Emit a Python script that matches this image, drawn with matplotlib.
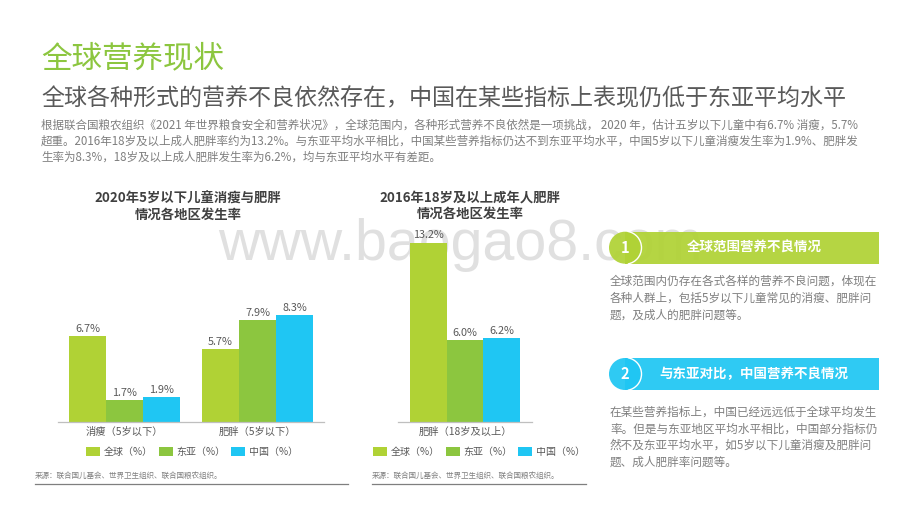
import matplotlib
matplotlib.use("Agg")
import matplotlib.pyplot as plt
from matplotlib.patches import Rectangle, Circle, Arc

plt.rcParams['font.family'] = ['Noto Sans CJK SC', 'DejaVu Sans']

W, H = 920, 518
LIME, GREEN, BLUE = '#B0D235', '#8CC63F', '#1FC6F3'
DARK, MID, GRIDC = '#595959', '#7F7F7F', '#BFBFBF'

series_names = ['全球（%）', '东亚（%）', '中国（%）']
series_colors = [LIME, GREEN, BLUE]

child_categories = ['消瘦（5岁以下）', '肥胖（5岁以下）']
child_global = [6.7, 5.7]
child_east_asia = [1.7, 7.9]
child_china = [1.9, 8.3]

adult_categories = ['肥胖（18岁及以上）']
adult_global = [13.2]
adult_east_asia = [6.0]
adult_china = [6.2]

title = '全球营养现状'
subtitle = '全球各种形式的营养不良依然存在，中国在某些指标上表现仍低于东亚平均水平'
intro_lines = [
    '根据联合国粮农组织《2021 年世界粮食安全和营养状况》，全球范围内，各种形式营养不良依然是一项挑战， 2020 年，估计五岁以下儿童中有6.7% 消瘦，5.7%',
    '超重。2016年18岁及以上成人肥胖率约为13.2%。与东亚平均水平相比，中国某些营养指标仍达不到东亚平均水平，中国5岁以下儿童消瘦发生率为1.9%、肥胖发',
    '生率为8.3%，18岁及以上成人肥胖发生率为6.2%，均与东亚平均水平有差距。',
]
source = '来源：联合国儿基会、世界卫生组织、联合国粮农组织。'
panel1_head = '全球范围营养不良情况'
panel1_lines = ['全球范围内仍存在各式各样的营养不良问题，体现在',
                '各种人群上，包括5岁以下儿童常见的消瘦、肥胖问',
                '题，及成人的肥胖问题等。']
panel2_head = '与东亚对比，中国营养不良情况'
panel2_lines = ['在某些营养指标上，中国已经远远低于全球平均发生',
                '率。但是与东亚地区平均水平相比，中国部分指标仍',
                '然不及东亚平均水平，如5岁以下儿童消瘦及肥胖问',
                '题、成人肥胖率问题等。']

fig = plt.figure(figsize=(W / 100, H / 100), dpi=100, facecolor='white')

# Page layer in pixel coordinates
page = fig.add_axes([0, 0, 1, 1], zorder=0)
page.set_xlim(0, W)
page.set_ylim(H, 0)
page.axis('off')

page.text(218, 260, 'www.baogao8.com', family=['Liberation Sans'], fontsize=41.3,
          color='#E0E0E0', va='baseline', ha='left', zorder=1)

page.text(41, 59, title, fontsize=22, color=GREEN, va='center')
page.text(41, 98.5, subtitle, fontsize=16.6, color=DARK, va='center')
for y, line in zip([124.8, 141, 157.5], intro_lines):
    page.text(41, y, line, fontsize=8.3, color=MID, va='center')

for cx, y0, lines in [(188, 199, ['2020年5岁以下儿童消瘦与肥胖', '情况各地区发生率']),
                      (470, 198, ['2016年18岁及以上成年人肥胖', '情况各地区发生率'])]:
    for i, line in enumerate(lines):
        page.text(cx, y0 + 16 * i, line, fontsize=9.6, weight='bold', color='#404040',
                  va='center', ha='center')

for x0, x1 in [(35, 348), (372, 586)]:
    page.text(x0, 475.5, source, fontsize=5.45, color=MID, va='center')
    page.plot([x0, x1], [483.5, 483.5], color='#7F7F7F', lw=0.9)

for yc, col, num, head, lines, ys, hx in [
    (247.7, LIME, '1', panel1_head, panel1_lines, [281.5, 298.5, 315.5], 754),
    (374, BLUE, '2', panel2_head, panel2_lines, [412, 429, 445.5, 462], 753.5),
]:
    page.add_patch(Rectangle((641, yc - 16), 238, 32, facecolor=col, alpha=0.93, lw=0, zorder=2))
    page.add_patch(Rectangle((625, yc - 16), 16, 32, facecolor=col, alpha=0.93, lw=0, zorder=2))
    page.add_patch(Circle((625, yc), 16, facecolor=col, alpha=0.93, lw=0, zorder=2))
    page.add_patch(Arc((625, yc), 33, 33, theta1=-80, theta2=80, color='white', lw=1, zorder=4))
    page.text(625, yc, num, fontsize=10.5, weight='bold', color='white', va='center',
              ha='center', zorder=5)
    page.text(hx, yc, head, fontsize=9.7, weight='bold', color='white', va='center',
              ha='center', zorder=5)
    for y, line in zip(ys, lines):
        page.text(610, y, line, fontsize=8.35, color=MID, va='center')


def bar_chart(left, right, top, base, ymax, cats, vals, legend_anchor):
    ax = fig.add_axes([left / W, 1 - base / H, (right - left) / W, (base - top) / H], zorder=1)
    ax.patch.set_alpha(0)
    bar_w = 0.278 if len(cats) > 1 else 0.276
    handles = []
    for k, (v, c, name) in enumerate(zip(vals, series_colors, series_names)):
        xs = [i + (k - 1) * bar_w for i in range(len(cats))]
        b = ax.bar(xs, v, bar_w, color=c, label=name, linewidth=0)
        handles.append(b)
        labels = ['%.1f%%' % x for x in v]
        ax.bar_label(b, labels=labels, padding=1.5, fontsize=7.8, color=DARK)
    ax.set_xlim(-0.5, len(cats) - 0.5)
    ax.set_ylim(0, ymax)
    ax.set_xticks(range(len(cats)), cats, fontsize=7.4, color=DARK)
    ax.set_yticks([])
    ax.tick_params(axis='x', length=0, pad=3.8)
    for s in ['top', 'left', 'right']:
        ax.spines[s].set_visible(False)
    ax.spines['bottom'].set_color(GRIDC)
    ax.spines['bottom'].set_linewidth(0.9)
    fig.legend(handles=handles, loc='center left', bbox_to_anchor=legend_anchor,
               bbox_transform=page.transData, ncols=3, frameon=False, fontsize=7.2,
               labelcolor=DARK, handlelength=1.4, handleheight=1.0, handletextpad=0.4,
               columnspacing=0.54, borderpad=0, borderaxespad=0)
    return ax


bar_chart(58, 324, 300, 421.5, 9.5, child_categories,
          [child_global, child_east_asia, child_china], (86, 451.5))
bar_chart(398, 532, 230, 422, 14.12, adult_categories,
          [adult_global, adult_east_asia, adult_china], (373, 451.5))

fig.savefig('out.png', dpi=100)
